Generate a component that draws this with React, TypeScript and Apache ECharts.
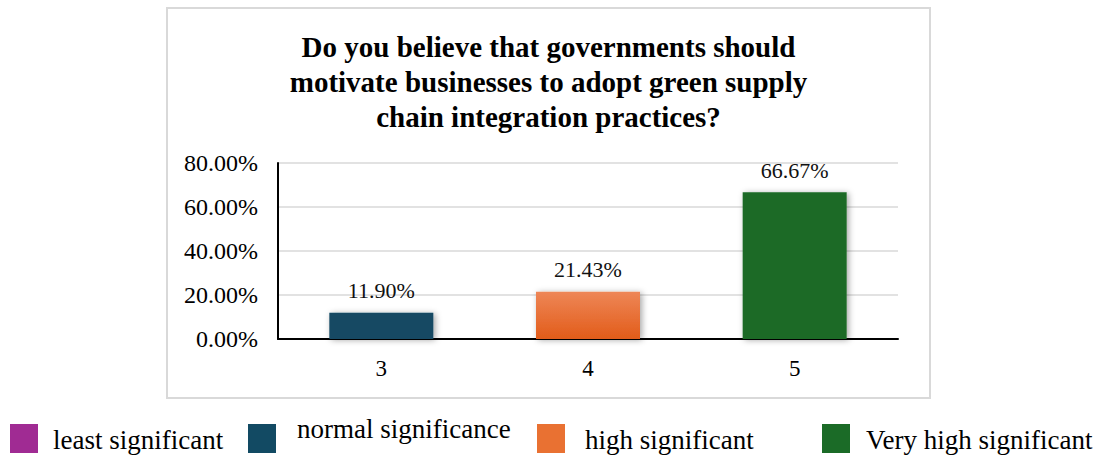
import React, { useEffect, useRef } from "react";
import * as echarts from "echarts";

const categories = ["3", "4", "5"];
const values = [11.9, 21.43, 66.67];
const yTicks = { min: 0, max: 80, interval: 20 };
const titleText =
  "Do you believe that governments should\nmotivate businesses to adopt green supply\nchain integration practices?";
const legendNames = ["least significant", "normal significance", "high significant", "Very high significant"];
const legendColors = ["#A02B93", "#124A63", "#E97132", "#1B6B27"];

const FONT = "Times New Roman, Liberation Serif, serif";

// layout of the hand-placed legend (positions only)
const legendLayout = [
  { sx: 10, tx: 53, ty: 440 },
  { sx: 248, tx: 297, ty: 429 },
  { sx: 537, tx: 585, ty: 440 },
  { sx: 822, tx: 866, ty: 440 },
];

export default function App() {
  const ref = useRef<HTMLDivElement>(null);
  useEffect(() => {
    if (!ref.current) return;
    const chart = echarts.init(ref.current, null, { renderer: "svg" });
    const barColors: any[] = [
      legendColors[1],
      new echarts.graphic.LinearGradient(0, 0, 0, 1, [
        { offset: 0, color: "#EE8656" },
        { offset: 1, color: "#E25C1A" },
      ]),
      legendColors[3],
    ];
    const legendGraphics: any[] = [];
    legendNames.forEach((name, i) => {
      const L = legendLayout[i];
      legendGraphics.push({
        type: "rect",
        shape: { x: L.sx, y: 424, width: 28, height: 29 },
        style: { fill: legendColors[i] },
      });
      legendGraphics.push({
        type: "text",
        x: L.tx,
        y: L.ty,
        style: {
          text: name,
          fontFamily: FONT,
          fontSize: 27,
          fill: "#000",
          verticalAlign: "middle",
        },
      });
    });
    chart.setOption({
      animation: false,
      backgroundColor: "#fff",
      title: {
        text: titleText,
        left: "center",
        top: 24,
        textStyle: {
          fontFamily: FONT,
          fontWeight: "bold",
          fontSize: 29,
          lineHeight: 35,
          color: "#000",
        },
      },
      graphic: [
        {
          type: "rect",
          shape: { x: 167, y: 8, width: 763, height: 390 },
          style: { fill: "none", stroke: "#D9D9D9", lineWidth: 2 },
          silent: true,
        },
        ...legendGraphics,
      ],
      grid: { left: 278, top: 163, width: 620, height: 176, containLabel: false },
      xAxis: {
        type: "category",
        data: categories,
        axisLine: { show: true, lineStyle: { color: "#000", width: 2 } },
        axisTick: { show: false },
        axisLabel: { fontFamily: FONT, fontSize: 23, color: "#000", margin: 18 },
      },
      yAxis: {
        type: "value",
        min: yTicks.min,
        max: yTicks.max,
        interval: yTicks.interval,
        axisLine: { show: true, lineStyle: { color: "#000", width: 2 } },
        axisTick: { show: false },
        splitLine: { lineStyle: { color: "#D9D9D9", width: 1.5 } },
        axisLabel: {
          fontFamily: FONT,
          fontSize: 24,
          color: "#000",
          margin: 20,
          formatter: (v: number) => v.toFixed(2) + "%",
        },
      },
      series: [
        {
          type: "bar",
          barWidth: 104,
          data: values.map((v, i) => ({
            value: v,
            itemStyle: {
              color: barColors[i],
              shadowBlur: 6,
              shadowColor: "rgba(0,0,0,0.35)",
              shadowOffsetX: 2,
              shadowOffsetY: 1,
            },
          })),
          label: {
            show: true,
            position: "top",
            distance: 11,
            fontFamily: FONT,
            fontSize: 22,
            color: "#111",
            formatter: (p: any) => p.value.toFixed(2) + "%",
          },
        },
      ],
    });
    return () => chart.dispose();
  }, []);
  return (
    <div
      ref={ref}
      style={{ position: "absolute", left: 0, top: 0, width: 1097, height: 455 }}
    />
  );
}
